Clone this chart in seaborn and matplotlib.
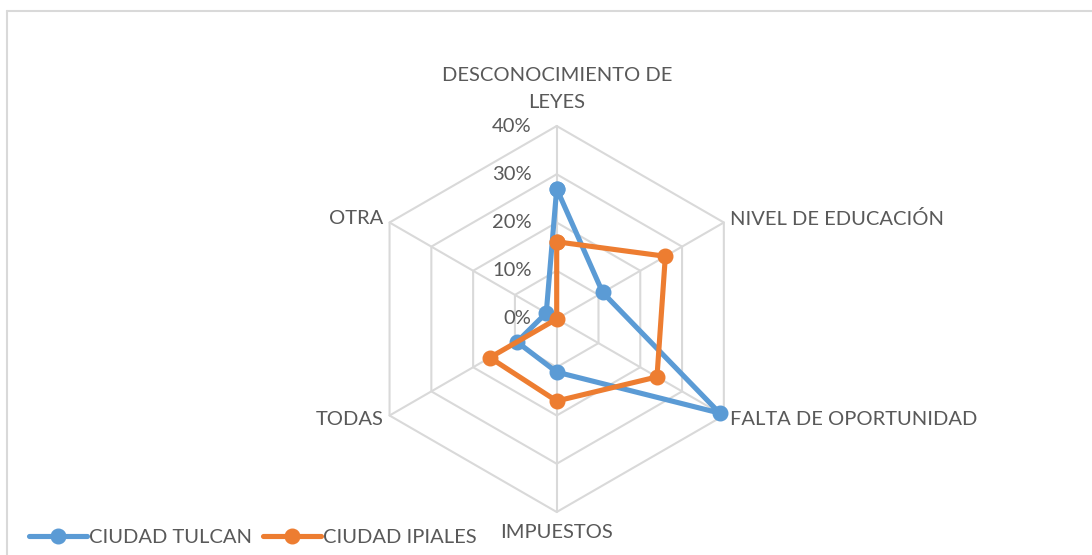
import numpy as np
import matplotlib.pyplot as plt
from matplotlib.lines import Line2D
import seaborn as sns

# Excel-like colours
BLUE = '#5B9BD5'
ORANGE = '#ED7D31'
GRID = '#D9D9D9'
TEXT = '#595959'

sns.set_style("white")
plt.rcParams['font.family'] = ['Lato', 'DejaVu Sans']
plt.rcParams['text.color'] = TEXT

# data (fractions)
categories = ['DESCONOCIMIENTO DE\nLEYES', 'NIVEL DE EDUCACIÓN', 'FALTA DE OPORTUNIDAD',
              'IMPUESTOS', 'TODAS', 'OTRA']
tulcan = [0.27, 0.11, 0.39, 0.11, 0.095, 0.025]
ipiales = [0.16, 0.26, 0.24, 0.17, 0.16, 0.0]
rings = [0.0, 0.1, 0.2, 0.3, 0.4]
ring_labels = ['0%', '10%', '20%', '30%', '40%']

W, H = 1092, 555
fig = plt.figure(figsize=(W / 100, H / 100), dpi=100)

cx, cy, R = 556.7, H - 319, 193
ax = fig.add_axes([(cx - R) / W, (cy - R) / H, 2 * R / W, 2 * R / H], projection='polar')
ax.set_theta_offset(np.pi / 2)
ax.set_theta_direction(-1)
ax.set_ylim(0, 0.4)
ax.grid(False)
ax.spines['polar'].set_visible(False)
ax.set_xticks([])
ax.set_yticks([])
ax.patch.set_alpha(0)

n = len(categories)
theta = np.arange(n) * 2 * np.pi / n
theta_c = np.append(theta, theta[0])

# hexagonal grid
for r in rings[1:]:
    ax.plot(theta_c, [r] * (n + 1), color=GRID, lw=1.5, clip_on=False, zorder=1)
for t in theta:
    ax.plot([t, t], [0, 0.4], color=GRID, lw=1.5, clip_on=False, zorder=1)

# series
for vals, col, name in [(tulcan, BLUE, 'CIUDAD TULCAN'), (ipiales, ORANGE, 'CIUDAD IPIALES')]:
    v = np.append(vals, vals[0])
    ax.plot(theta_c, v, color=col, lw=3.7, marker='o', markersize=10.5,
            label=name, clip_on=False, zorder=3, solid_joinstyle='round')

fs = 14.5
# ring labels
for r, lab in zip(rings, ring_labels):
    ax.annotate(lab, xy=(0, r), xytext=(-18, 0), textcoords='offset points',
                ha='right', va='center', fontsize=fs, color=TEXT)

# category labels
ax.text(theta[0], 0.432, categories[0], ha='center', va='bottom', fontsize=fs,
        linespacing=1.7)
ax.text(theta[1], 0.415, categories[1], ha='left', va='center', fontsize=fs)
ax.text(theta[2], 0.415, categories[2], ha='left', va='center', fontsize=fs)
ax.text(theta[3], 0.425, categories[3], ha='center', va='top', fontsize=fs)
ax.text(theta[4], 0.415, categories[4], ha='right', va='center', fontsize=fs)
ax.text(theta[5], 0.415, categories[5], ha='right', va='center', fontsize=fs)

# legend
leg = fig.legend(loc='lower left', bbox_to_anchor=(20 / W, 0), ncol=2, frameon=False,
                 fontsize=fs, handlelength=2.9, handletextpad=0.1, columnspacing=0.5,
                 borderaxespad=0.05)

# partial chart border (top and left)
fig.add_artist(Line2D([7 / W, 1], [1 - 11 / H, 1 - 11 / H], color=GRID, lw=1.5,
                      transform=fig.transFigure))
fig.add_artist(Line2D([7 / W, 7 / W], [0, 1 - 11 / H], color=GRID, lw=1.5,
                      transform=fig.transFigure))

fig.savefig('out.png', dpi=100, facecolor='white')
